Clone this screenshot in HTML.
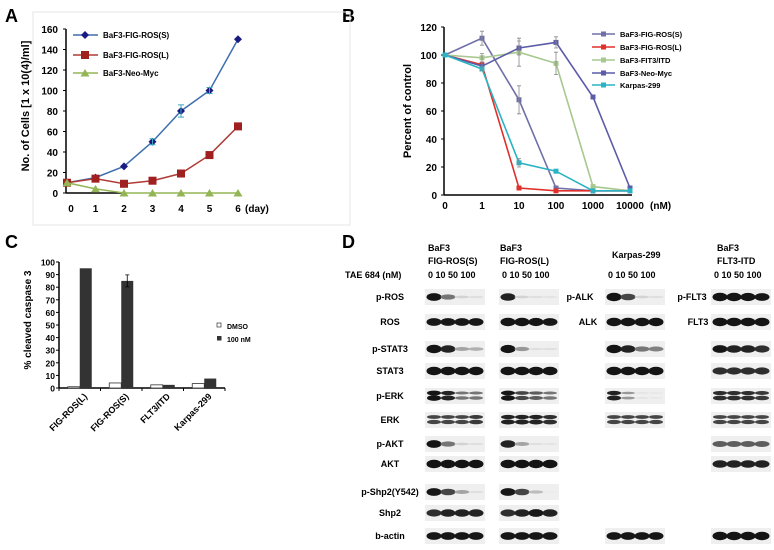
<!DOCTYPE html>
<html><head><meta charset="utf-8"><style>
body{margin:0;background:#fff;}
svg{display:block;font-family:"Liberation Sans",Arial,sans-serif;font-weight:bold;}
</style></head><body>
<svg id="fig" width="774" height="550" viewBox="0 0 774 550">
<g font-size="18">
<text x="5" y="22">A</text>
<text x="342" y="22">B</text>
<text x="5" y="248">C</text>
<text x="342" y="248">D</text>
</g>
<rect x="33" y="12" width="317" height="213" fill="none" stroke="#e4e4e4"/>
<g id="pa"></g>
<g id="pb"></g>
<g id="pc"></g>
<g id="pd"></g>
</svg>
<script>
const NS="http://www.w3.org/2000/svg";
function mk(p,t,a,txt){const e=document.createElementNS(NS,t);for(const k in a)e.setAttribute(k,a[k]);if(txt!==undefined)e.textContent=txt;p.appendChild(e);return e;}

// ---- Panel A data
const aDays=[0,1,2,3,4,5,6];
const aTicks=[0,20,40,60,80,100,120,140,160];
const aS=[10,15,26,50,80,100,150];
const aL=[10,14,9,12,19,37,65];
const aN=[10,4,0,0,0,0,0];
// ---- Panel B data
const bDoses=["0","1","10","100","1000","10000"];
const bTicks=[0,20,40,60,80,100,120];
const bS=[100,112,68,5,3,3];
const bL=[100,93,5,3,3,3];
const bF=[100,98,102,94,6,3];
const bN=[100,92,105,109,70,5];
const bK=[100,90,23,17,3,3];
// ---- Panel C data
const cCats=["FIG-ROS(L)","FIG-ROS(S)","FLT3/ITD","Karpas-299"];
const cDMSO=[1,4,2.5,3.5];
const c100=[95,85,2.5,7.5];
const cTicks=[0,10,20,30,40,50,60,70,80,90,100];

// Panel A
(function(){
const g=document.getElementById('pa');
const X=d=>67+d*28.5, Y=v=>193-v*164/160;
mk(g,'line',{x1:66,y1:Y(0),x2:66,y2:Y(160),stroke:'#000','stroke-width':1.5});
mk(g,'line',{x1:66,y1:Y(0),x2:X(2),y2:Y(0),stroke:'#000','stroke-width':1.5});
aTicks.forEach(t=>{const e=mk(g,'text',{x:58,y:Y(t)+4,'font-size':10,'text-anchor':'end'},t);

mk(g,'line',{x1:63,x2:66,y1:Y(t),y2:Y(t),stroke:'#000'});});
aDays.forEach(d=>{const e=mk(g,'text',{x:X(d)+(d==0?4:0),y:212,'font-size':10,'text-anchor':'middle'},d);
});
mk(g,'text',{x:245,y:212,'font-size':10},'(day)');
const yt=mk(g,'text',{transform:'translate(29,106) rotate(-90)','font-size':11,'text-anchor':'middle'},'No. of Cells [1 x 10(4)/ml]');

const ser=[[aS,'#3f6fb0','#1a1a80','d','BaF3-FIG-ROS(S)'],[aL,'#b03a36','#a02020','s','BaF3-FIG-ROS(L)'],[aN,'#93b556','#93b556','t','BaF3-Neo-Myc']];
function marker(p,type,x,y,c){
 if(type=='d')return mk(p,'path',{d:`M${x},${y-4}L${x+4},${y}L${x},${y+4}L${x-4},${y}Z`,fill:c});
 if(type=='s')return mk(p,'rect',{x:x-4,y:y-4,width:8,height:8,fill:c});
 return mk(p,'path',{d:`M${x},${y-4}L${x+4.5},${y+3.5}L${x-4.5},${y+3.5}Z`,fill:c});}
ser.forEach((s,i)=>{const sg=mk(g,'g',{});

mk(sg,'polyline',{points:s[0].map((v,j)=>X(j)+','+Y(v)).join(' '),fill:'none',stroke:s[1],'stroke-width':1.5});
s[0].forEach((v,j)=>{const m=marker(sg,s[3],X(j),Y(v),s[2]);});
const ly=[35,55,73][i];
const lg=mk(g,'g',{});
mk(lg,'line',{x1:73,x2:98,y1:ly,y2:ly,stroke:s[1],'stroke-width':1.5});marker(lg,s[3],85,ly,s[2]);
mk(lg,'text',{x:103,y:ly+3,'font-size':8},s[4]);});
[[3,3],[4,6],[5,3]].forEach(([d,e])=>{const x=X(d),y=Y(aS[d]);mk(g,'path',{d:`M${x},${y-e*1.02}V${y+e*1.02}M${x-3},${y-e*1.02}h6M${x-3},${y+e*1.02}h6`,stroke:'#3aa8c0'});});
})();

// Panel B
(function(){
const g=document.getElementById('pb');
const X=i=>445+i*37, Y=v=>195-v*1.4;
mk(g,'line',{x1:444,y1:Y(0),x2:444,y2:Y(120),stroke:'#000','stroke-width':1.5});
mk(g,'line',{x1:444,y1:Y(0),x2:X(5)+2,y2:Y(0),stroke:'#000','stroke-width':1.5});
bTicks.forEach(t=>{const e=mk(g,'text',{x:437,y:Y(t)+4,'font-size':10,'text-anchor':'end'},t);

mk(g,'line',{x1:441,x2:444,y1:Y(t),y2:Y(t),stroke:'#000'});});
bDoses.forEach((d,i)=>{const e=mk(g,'text',{x:X(i),y:209,'font-size':10,'text-anchor':'middle'},d);
});
mk(g,'text',{x:650,y:209,'font-size':10},'(nM)');
const yt=mk(g,'text',{transform:'translate(411,111) rotate(-90)','font-size':11,'text-anchor':'middle'},'Percent of control');

const ser=[[bS,'#7070a8','BaF3-FIG-ROS(S)'],[bL,'#e0302c','BaF3-FIG-ROS(L)'],[bF,'#a8c890','BaF3-FIT3/ITD'],[bN,'#5c5ca8','BaF3-Neo-Myc'],[bK,'#2bb3c3','Karpas-299']];
ser.forEach((s,i)=>{const sg=mk(g,'g',{});

mk(sg,'polyline',{points:s[0].map((v,j)=>X(j)+','+Y(v)).join(' '),fill:'none',stroke:s[1],'stroke-width':1.6});
s[0].forEach((v,j)=>{const m=mk(sg,'rect',{x:X(j)-2.5,y:Y(v)-2.5,width:5,height:5,fill:s[1]});});
const ly=[34,47,60,73,85][i];
const lg=mk(g,'g',{});
mk(lg,'line',{x1:592,x2:615,y1:ly,y2:ly,stroke:s[1],'stroke-width':1.5});mk(lg,'rect',{x:601,y:ly-2.5,width:5,height:5,fill:s[1]});
mk(lg,'text',{x:620,y:ly+3,'font-size':7.5},s[2]);});
[[bS,1,5],[bS,2,10],[bF,2,10],[bF,3,8],[bN,2,5],[bN,3,4],[bK,2,3],[bN,1,3],[bF,1,3]].forEach(([a,j,e])=>{const x=X(j),y=Y(a[j]);
mk(g,'path',{d:`M${x},${y-e*1.4}V${y+e*1.4}M${x-2},${y-e*1.4}h4M${x-2},${y+e*1.4}h4`,stroke:'#888','stroke-width':0.8});});
})();

// Panel C
(function(){
const g=document.getElementById('pc');
const Y=v=>388-v*1.26, gw=41.5, X0=59;
mk(g,'line',{x1:X0,y1:Y(0),x2:X0,y2:Y(100),stroke:'#000','stroke-width':1.5});
mk(g,'line',{x1:X0,y1:Y(0),x2:X0+4*gw,y2:Y(0),stroke:'#000','stroke-width':1.5});
cTicks.forEach(t=>{const e=mk(g,'text',{x:55,y:Y(t)+3.5,'font-size':8.5,'text-anchor':'end'},t);

mk(g,'line',{x1:X0-3,x2:X0,y1:Y(t),y2:Y(t),stroke:'#000'});});
for(let i=0;i<=4;i++)mk(g,'line',{x1:X0+i*gw,x2:X0+i*gw,y1:Y(0),y2:Y(0)+3,stroke:'#000'});
const yt=mk(g,'text',{transform:'translate(31,320) rotate(-90)','font-size':10,'text-anchor':'middle'},'% cleaved caspase 3');

cCats.forEach((c,i)=>{const cx=X0+i*gw+gw/2;
const b1=mk(g,'rect',{x:cx-12,y:Y(cDMSO[i]),width:12,height:cDMSO[i]*1.26,fill:'#fff',stroke:'#333','stroke-width':0.8});

const b2=mk(g,'rect',{x:cx,y:Y(c100[i]),width:12,height:c100[i]*1.26,fill:'#333'});

const e=mk(g,'text',{transform:`translate(${cx+8},${Y(0)+9}) rotate(-45)`,'font-size':9,'text-anchor':'end'},c);
});
{const cx=X0+gw*1.5+6,y=Y(c100[1]);mk(g,'path',{d:`M${cx},${y-6}V${y+6}M${cx-2},${y-6}h4M${cx-2},${y+6}h4`,stroke:'#000','stroke-width':0.8});}
const l1=mk(g,'g',{});
mk(l1,'rect',{x:217,y:323,width:4,height:4,fill:'#fff',stroke:'#333','stroke-width':0.7});mk(l1,'text',{x:227,y:329,'font-size':7},'DMSO');
const l2=mk(g,'g',{});
mk(l2,'rect',{x:217,y:336,width:4.5,height:4.5,fill:'#333'});mk(l2,'text',{x:227,y:342,'font-size':7},'100 nM');
})();

// Panel D
const dRows=["p-ROS","ROS","p-STAT3","STAT3","p-ERK","ERK","p-AKT","AKT","p-Shp2(Y542)","Shp2","b-actin"];
const dCol1=[[.9,.5,.1,.05],[.9,.9,.9,.9],[1,.85,.3,.25],[1,1,1,1],[1,.85,.5,.5],[.7,.7,.7,.75],[.9,.5,.1,.05],[1,1,1,1],[.9,.7,.3,.05],[.8,.85,.85,.85],[.9,.9,.9,.9]];
const dCol2=[[.85,.1,.05,.03],[1,1,.95,.9],[.95,.35,.05,.05],[1,1,1,1],[.95,.7,.6,.5],[.85,.85,.85,.8],[.85,.3,.05,.03],[1,1,1,1],[.9,.7,.2,0],[.8,.85,.9,.85],[.9,.9,.9,.9]];
const dCol3=[[1,.7,.1,.05],[1,1,1,1],[1,.85,.5,.45],[1,1,1,1],[.85,.35,.05,.03],[.7,.7,.7,.7],null,null,null,null,[.9,.9,.9,.9]];
const dCol4=[[1,1,.95,.9],[1,1,1,1],[.9,.85,.85,.8],[.8,.8,.8,.8],[.8,.8,.8,.75],[.7,.7,.7,.7],[.6,.6,.6,.6],[.85,.85,.85,.85],null,null,[1,1,1,1]];
(function(){
const g=document.getElementById('pd');
const rowY=[297,322,349,371,396,420,444,464,492,513,536];
const colX=[427,501,607,713];
const t=(x,y,s,fs,anc,name)=>{const e=mk(g,'text',{x:x,y:y,'font-size':fs||9,'text-anchor':anc||'start'},s);
return e;};
t(428,251,'BaF3');t(428,264,'FIG-ROS(S)');t(500,251,'BaF3');t(500,264,'FIG-ROS(L)');
t(612,258,'Karpas-299');t(717,251,'BaF3');t(717,264,'FLT3-ITD');
t(345,278,'TAE 684 (nM)',9,'start','d-treatment-label');
colX.forEach(x=>t(x+1,278,'0 10 50 100',9,'start','d-dose-labels'));
dRows.forEach((r,i)=>t(390,rowY[i]+3,r,9,'middle','d-row-label-'+r));
t(580,rowY[0]+3,'p-ALK',9,'middle');t(588,rowY[1]+3,'ALK',9,'middle');
t(692,rowY[0]+3,'p-FLT3',9,'middle');t(698,rowY[1]+3,'FLT3',9,'middle');
[dCol1,dCol2,dCol3,dCol4].forEach((col,ci)=>{col.forEach((vals,ri)=>{if(!vals)return;
const bg=mk(g,'g',{});
const x0=colX[ci],y=rowY[ri];
mk(bg,'rect',{x:x0-2,y:y-8,width:60,height:16,fill:'#efefef'});
const dbl=/ERK/.test(dRows[ri]);
vals.forEach((v,li)=>{const cx=x0+7+li*14;const h=2+6.5*v;const c=Math.round(235-215*Math.min(1,v*1.1));
if(dbl){mk(bg,'ellipse',{cx:cx,cy:y-3,rx:7,ry:h/3.5,fill:`rgb(${c},${c},${c})`});mk(bg,'ellipse',{cx:cx,cy:y+2,rx:7,ry:h/3,fill:`rgb(${c},${c},${c})`});}
else mk(bg,'ellipse',{cx:cx,cy:y,rx:7.5,ry:h/2,fill:`rgb(${c},${c},${c})`});});
});});
})();
</script>
</body></html>
